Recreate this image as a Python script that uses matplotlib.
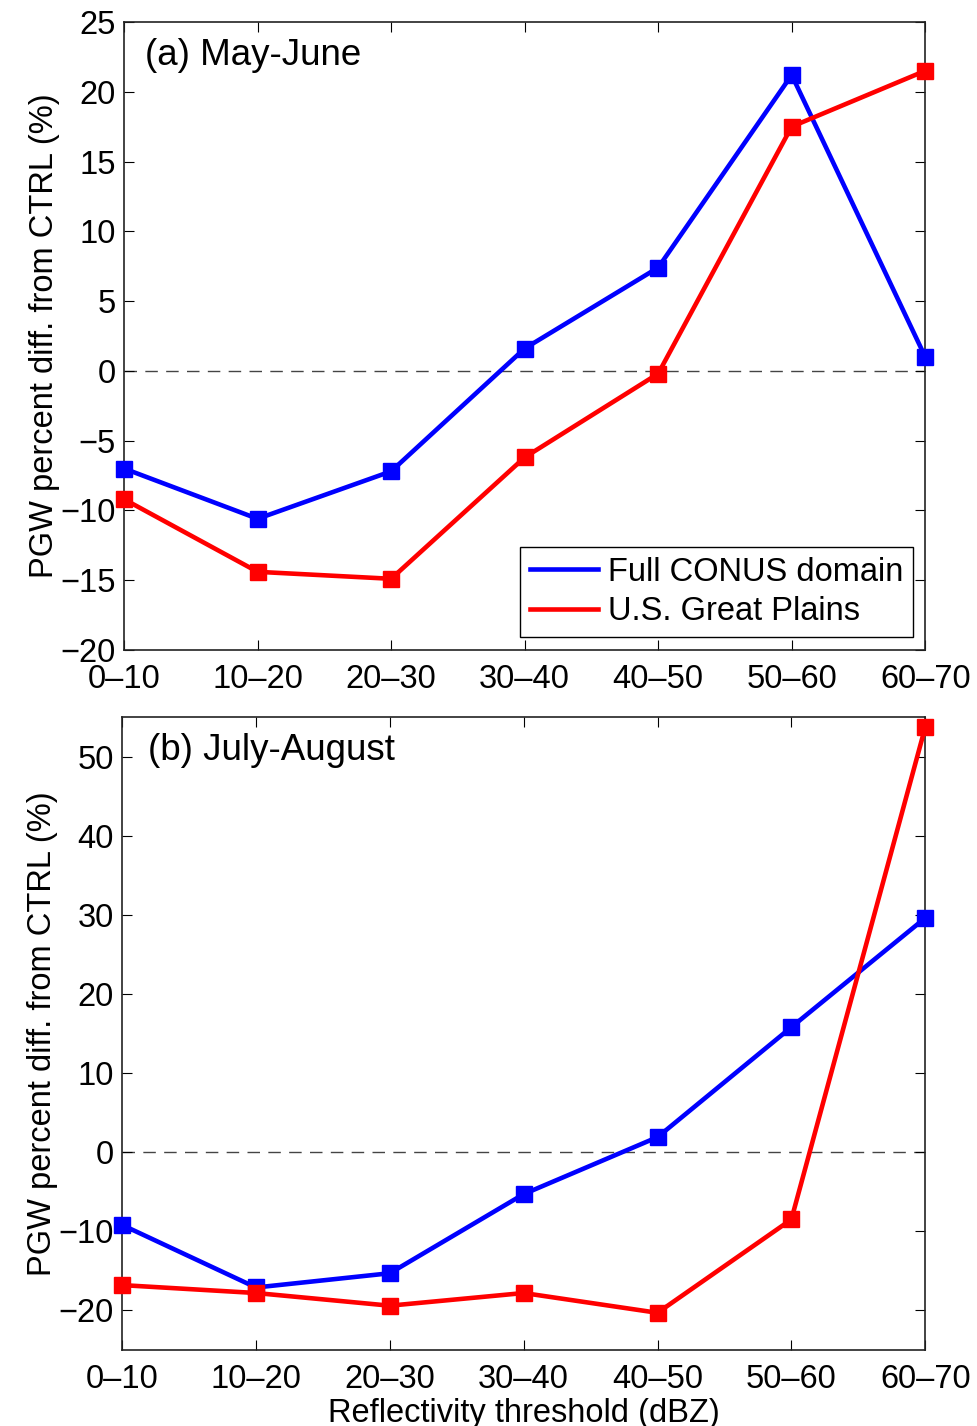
import matplotlib
matplotlib.use('Agg')
import matplotlib.pyplot as plt

plt.rcParams['font.family'] = ['Liberation Sans', 'DejaVu Sans']
plt.rcParams['font.size'] = 23.5

bins = ['0\u201310', '10\u201320', '20\u201330', '30\u201340', '40\u201350', '50\u201360', '60\u201370']

# May-June
mj_conus = [-7.0, -10.6, -7.2, 1.6, 7.4, 21.2, 1.0]
mj_plains = [-9.2, -14.4, -14.9, -6.2, -0.2, 17.5, 21.5]

# July-August
ja_conus = [-9.2, -17.1, -15.3, -5.3, 1.9, 15.8, 29.6]
ja_plains = [-16.8, -17.8, -19.4, -17.8, -20.3, -8.5, 53.7]

fig = plt.figure(figsize=(9.77, 14.26), dpi=100)
ax1 = fig.add_axes([0.127, 0.5442, 0.820, 0.4404])
ax2 = fig.add_axes([0.125, 0.0533, 0.822, 0.4439])

x = list(range(len(bins)))

def style(ax, ylim, yticks, title, tx):
    ax.axhline(0, color='#444444', lw=1.0, ls=(0, (9, 6)), zorder=1)
    ax.set_xlim(0, len(bins) - 1)
    ax.set_ylim(*ylim)
    ax.set_xticks(x)
    ax.set_xticklabels(bins)
    ax.set_yticks(yticks)
    ax.set_yticklabels([str(v).replace('-', '\u2212') for v in yticks])
    ax.tick_params(direction='in', length=7, width=0.8, top=True, right=True)
    ax.tick_params(axis='x', pad=10)
    ax.tick_params(axis='y', pad=6)
    for s in ax.spines.values():
        s.set_linewidth(1.2)
        s.set_color('#222222')
    ax.set_ylabel('PGW percent diff. from CTRL (%)', labelpad=0)
    ax.text(tx, 0.947, title, transform=ax.transAxes, va='center', ha='left', fontsize=26.5)

def draw(ax, conus, plains):
    a, = ax.plot(x, conus, color='#0000ff', lw=3.3, marker='s', ms=11,
                 label='Full CONUS domain', zorder=3, clip_on=False)
    b, = ax.plot(x, plains, color='#ff0000', lw=3.3, marker='s', ms=11,
                 label='U.S. Great Plains', zorder=3, clip_on=False)
    return a, b

l1, l2 = draw(ax1, mj_conus, mj_plains)
style(ax1, (-20, 25), list(range(-20, 26, 5)), '(a) May-June', 0.026)
leg = ax1.legend(handles=[l1, l2], loc='lower right', bbox_to_anchor=(0.985, 0.021),
                 borderaxespad=0, fancybox=False, edgecolor='black', framealpha=1,
                 handlelength=2.1, handletextpad=0.3, borderpad=0.3, labelspacing=0.25)
leg.get_frame().set_linewidth(1.0)
for h in leg.get_lines():
    h.set_marker('')

draw(ax2, ja_conus, ja_plains)
style(ax2, (-25, 55), list(range(-20, 51, 10)), '(b) July-August', 0.032)
ax2.set_xlabel('Reflectivity threshold (dBZ)', labelpad=2)

fig.savefig('out.png', dpi=100)
